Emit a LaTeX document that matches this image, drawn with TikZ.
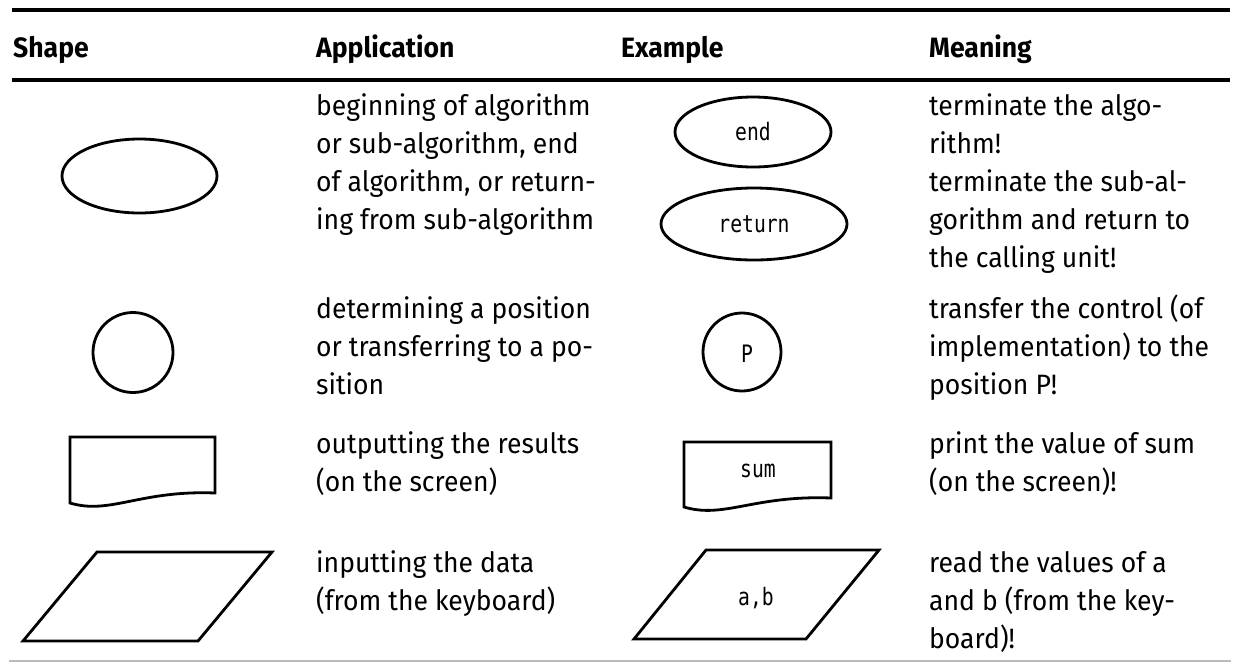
\documentclass[tikz,border=0pt]{standalone}
\usepackage{fontspec}
\usetikzlibrary{shapes.geometric}

% Body face: Fira Sans, narrowed so that a reference line runs 278pt at 28pt
\newfontfamily\probefont{Fira Sans}
\newlength\probelen
\settowidth\probelen{\probefont\fontsize{28}{38}\selectfont ing from sub-algorithm}
\pgfmathsetmacro\bodystretch{278/\probelen}
\edef\setbodyfont{\noexpand\setmainfont{Fira Sans}[FakeStretch=\bodystretch]}
\setbodyfont
\setmonofont{DejaVu Sans Mono}[FakeStretch=0.82]

% multi-line table cell, aligned on the baseline of its first line
\newcommand\tabcell[1]{\begin{tabular}[t]{@{}l@{}}#1\end{tabular}}

\begin{document}
\begin{tikzpicture}[x=1pt, y=-1pt,
  rulethick/.style={line width=4pt},
  rulethin/.style={line width=1.6pt, draw=black!27},
  outline/.style={draw, line width=2.8pt, line join=miter},
  celltext/.style={anchor=base west, inner sep=0pt, font=\fontsize{28}{38}\selectfont},
  headtext/.style={anchor=base west, inner sep=0pt, font=\bfseries\fontsize{28}{38}\selectfont},
  codetext/.style={inner sep=0pt, font=\ttfamily\fontsize{24}{28}\selectfont},
]
\useasboundingbox (0,0) rectangle (1233,662);

% table rules
\draw[rulethick] (12,10.3) -- (1230,10.3);
\draw[rulethick] (12,80) -- (1230,80);
\draw[rulethin] (9,661) -- (1231,661);

% column heads
\node[headtext] (hShape) at (13,57)  {Shape};
\node[headtext] (hApp)   at (316,57) {Application};
\node[headtext] (hEx)    at (621,57) {Example};
\node[headtext] (hMean)  at (929,57) {Meaning};

% --- terminal ---
\node[outline, ellipse, inner sep=0pt, minimum width=155pt, minimum height=74pt] (termShape) at (139.5,176) {};
\node[celltext] (termApp) at (316,115) {\tabcell{beginning of algorithm\\or sub-algorithm, end\\of algorithm, or return-\\ing from sub-algorithm}};
\node[outline, ellipse, inner sep=0pt, minimum width=156pt, minimum height=70pt, codetext] (endEx) at (753,132) {end};
\node[outline, ellipse, inner sep=0pt, minimum width=186pt, minimum height=72pt, codetext] (retEx) at (754,224) {return};
\node[celltext] (termMean) at (929,115) {\tabcell{terminate the algo-\\rithm!\\terminate the sub-al-\\gorithm and return to\\the calling unit!}};

% --- connector ---
\node[outline, circle, inner sep=0pt, minimum size=80pt] (connShape) at (133,352.5) {};
\node[celltext] (connApp) at (316,318) {\tabcell{determining a position\\or transferring to a po-\\sition}};
\node[outline, circle, inner sep=0pt, minimum size=78pt] (connEx) at (742,352) {};
\node[codetext, anchor=base] (connLabel) at (747,362) {P};
\node[celltext] (connMean) at (929,318) {\tabcell{transfer the control (of\\implementation) to the\\position P!}};

% --- output (document) ---
\draw[outline] (70,437) -- (215,437) -- (215,493)
  .. controls (140,490) and (110,515) .. (70,503) -- cycle;
\node[celltext] (outApp) at (316,453) {\tabcell{outputting the results\\(on the screen)}};
\draw[outline] (684,442) -- (831,442) -- (831,498)
  .. controls (754,495) and (724,519) .. (684,507) -- cycle;
\node[codetext, anchor=base] (outLabel) at (758,477) {sum};
\node[celltext] (outMean) at (929,453) {\tabcell{print the value of sum\\(on the screen)!}};

% --- input (parallelogram) ---
\draw[outline] (97,552) -- (272,552) -- (198,641) -- (23,641) -- cycle;
\node[celltext] (inApp) at (316,572) {\tabcell{inputting the data\\(from the keyboard)}};
\draw[outline] (706,550) -- (879,550) -- (806,639) -- (634,639) -- cycle;
\node[codetext, anchor=base] (inLabel) at (756,605) {a,b};
\node[celltext] (inMean) at (929,572) {\tabcell{read the values of a\\and b (from the key-\\board)!}};
\end{tikzpicture}
\end{document}
